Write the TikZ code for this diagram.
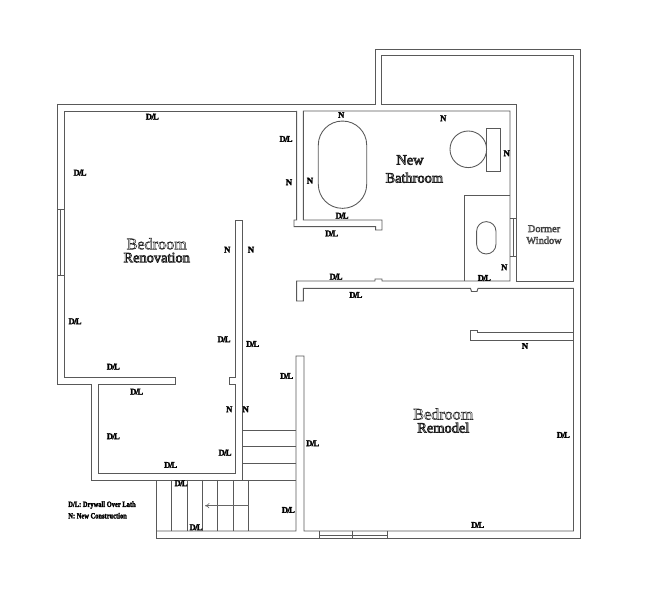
\documentclass[tikz,border=0pt]{standalone}
\usepackage{fontspec}
\setmainfont{Liberation Serif}
\newfontfamily\keyfont[FakeStretch=0.8]{Liberation Serif}
\usetikzlibrary{arrows.meta}
\tikzset{
	wall/.style={line width=0.55pt,draw=black!65,line join=miter},
	fixture/.style={draw=black!65,line width=0.5pt,inner sep=0,outer sep=0},
	note/.style={inner sep=0,outer sep=0,font=\bfseries\fontsize{5}{5}\selectfont},
	legend/.style={inner sep=0,outer sep=0,anchor=west,font=\keyfont\bfseries\fontsize{4.6}{5}\selectfont},
	room/.style={inner sep=0,outer sep=0,text=black!85,font=\fontsize{9.2}{9}\selectfont},
	roomb/.style={inner sep=0,outer sep=0,text=black!90,font=\fontsize{8.2}{9}\selectfont},
	dormer/.style={inner sep=0,outer sep=0,text=black!75,font=\fontsize{5.9}{6}\selectfont}
}
\newcommand{\dl}{D\kern-.4pt/\kern-.5pt L}
\newcommand{\hollow}[1]{\special{pdf:code 1 Tr 0.28 w}#1\special{pdf:code 0 Tr}}
\newcommand{\hollowb}[1]{\special{pdf:code 1 Tr 0.4 w}#1\special{pdf:code 0 Tr}}
\newcommand{\heavy}[1]{\special{pdf:code 2 Tr 0.12 w}#1\special{pdf:code 0 Tr}}

\begin{document}
\begin{tikzpicture}[x=0.02cm,y=-0.02cm]
	\useasboundingbox (0,0) rectangle (650,601);
	% outer walls
	\draw[wall] (57,104) -- (375.5,104) -- (375.5,49) -- (580,49) -- (580,538) -- (156.7,538) -- (156.7,480);
	\draw[wall] (57,104) -- (57,384) -- (91.7,384) -- (91.7,480) -- (296,480);
	% bedroom renovation
	\draw[wall] (296.7,111) -- (64,111) -- (64,377) -- (175.7,377) -- (175.7,384) -- (98.3,384) -- (98.3,473) -- (235,473) -- (235,384) -- (229,384) -- (229,377) -- (235,377) -- (235,220) -- (242.3,220) -- (242.3,480);
	% bathroom and the wall below it
	\draw[wall] (296.7,111) -- (296.7,220) -- (294,220) -- (294,226.7) -- (375.7,226.7) -- (375.7,230) -- (382,230) -- (382,220) -- (303.3,220) -- (303.3,111) -- (510,111) -- (510,281) -- (382,281) -- (382,279) -- (375,279) -- (375,281) -- (296.7,281) -- (296.7,301) -- (303.3,301) -- (303.3,288.3) -- (470.5,288.3) -- (471.5,291.5) -- (477,291.5) -- (478,288.3) -- (573.5,288.3) -- (573.5,531) -- (304,531) -- (304,356) -- (296,356) -- (296,531) -- (156.7,531);
	% dormer
	\draw[wall] (381,104) -- (516.7,104) -- (516.7,281) -- (573.5,281) -- (573.5,55.7) -- (381,55.7) -- (381,104);
	\draw[wall] (464.3,281) -- (464.3,195) -- (510,195);
	% partition
	\draw[wall] (573.5,332.7) -- (477.7,332.7) -- (477.7,330) -- (470.7,330) -- (470.7,340) -- (573.5,340);
	% windows
	\draw[wall] (57,209) -- (64,209);
	\draw[wall] (57,275) -- (64,275);
	\draw[wall] (60.5,209) -- (60.5,275);
	\draw[wall] (510,218.3) -- (516.7,218.3);
	\draw[wall] (510,256.7) -- (516.7,256.7);
	\draw[wall] (513.3,218.3) -- (513.3,256.7);
	\draw[wall] (319,531) -- (319,538);
	\draw[wall] (352.7,531) -- (352.7,538);
	\draw[wall] (387,531) -- (387,538);
	\draw[wall] (319,535) -- (387,535);
	% stairs
	\draw[wall] (242.3,430.7) -- (296,430.7);
	\draw[wall] (242.3,446.7) -- (296,446.7);
	\draw[wall] (242.3,463.3) -- (296,463.3);
	\draw[wall] (171.7,480) -- (171.7,531);
	\draw[wall] (187.3,480) -- (187.3,531);
	\draw[wall] (202.7,480) -- (202.7,531);
	\draw[wall] (217.7,480) -- (217.7,531);
	\draw[wall] (233.3,480) -- (233.3,531);
	\draw[wall] (248.7,480) -- (248.7,531);
	\coordinate (stairtail) at (248.7,505.7);
	\coordinate (stairhead) at (205,505.7);
	\draw[line width=0.35pt,draw=black!60,-{To[length=2.5pt,width=3pt]}] (stairtail) -- (stairhead);
	% fixtures
	\node[fixture,minimum width=0.968cm,minimum height=1.746cm,rounded corners=0.48cm] (tub) at (342.5,164.7) {};
	\node[fixture,circle,minimum size=0.732cm] (toilet) at (468.3,149.3) {};
	\node[fixture,minimum width=0.266cm,minimum height=0.854cm] (tank) at (493.3,149.6) {};
	\node[fixture,minimum width=0.386cm,minimum height=0.646cm,rounded corners=0.19cm] (sink) at (486.3,237.8) {};
	% room names
	\node[room] (bed1a) at (156.7,243.8) {\hollow{Bedroom}};
	\node[roomb] (bed1b) at (156.7,257.6) {\hollowb{Renovation}};
	\node[roomb] (bath1) at (410,160) {\hollowb{New}};
	\node[roomb] (bath2) at (414.3,177.7) {\hollowb{Bathroom}};
	\node[room] (bed2a) at (443.3,414) {\hollow{Bedroom}};
	\node[roomb] (bed2b) at (443.3,427.7) {\hollowb{Remodel}};
	\node[dormer] (dorm1) at (544,228.7) {\hollow{Dormer}};
	\node[dormer] (dorm2) at (544,240.3) {\hollow{Window}};
	% D/L marks
	\node[note] (dl1) at (152.3,116.7) {\heavy{\dl}};
	\node[note] (dl2) at (286,139) {\heavy{\dl}};
	\node[note] (dl3) at (80,172.7) {\heavy{\dl}};
	\node[note] (dl4) at (342,215.7) {\heavy{\dl}};
	\node[note] (dl5) at (331.7,233.5) {\heavy{\dl}};
	\node[note] (dl6) at (336,276.7) {\heavy{\dl}};
	\node[note] (dl7) at (484.3,278) {\heavy{\dl}};
	\node[note] (dl8) at (355.8,295) {\heavy{\dl}};
	\node[note] (dl9) at (75,321.3) {\heavy{\dl}};
	\node[note] (dl10) at (224,339.3) {\heavy{\dl}};
	\node[note] (dl11) at (252.7,344) {\heavy{\dl}};
	\node[note] (dl12) at (113.3,366.7) {\heavy{\dl}};
	\node[note] (dl13) at (286.7,376) {\heavy{\dl}};
	\node[note] (dl14) at (136.7,391.7) {\heavy{\dl}};
	\node[note] (dl15) at (113.3,436.3) {\heavy{\dl}};
	\node[note] (dl16) at (563.3,435) {\heavy{\dl}};
	\node[note] (dl17) at (312.7,443.3) {\heavy{\dl}};
	\node[note] (dl18) at (225,452.7) {\heavy{\dl}};
	\node[note] (dl19) at (170.7,465) {\heavy{\dl}};
	\node[note] (dl20) at (181,483.3) {\heavy{\dl}};
	\node[note] (dl21) at (288.3,510) {\heavy{\dl}};
	\node[note] (dl22) at (477.7,525) {\heavy{\dl}};
	\node[note] (dl23) at (196,527.3) {\heavy{\dl}};
	% N marks
	\node[note] (n1) at (341.3,115) {\heavy{N}};
	\node[note] (n2) at (443.3,118.3) {\heavy{N}};
	\node[note] (n3) at (506.7,153.3) {\heavy{N}};
	\node[note] (n4) at (289,182.3) {\heavy{N}};
	\node[note] (n5) at (310,180.7) {\heavy{N}};
	\node[note] (n6) at (227.3,249.7) {\heavy{N}};
	\node[note] (n7) at (251,249.7) {\heavy{N}};
	\node[note] (n8) at (504.3,267.3) {\heavy{N}};
	\node[note] (n9) at (525,346) {\heavy{N}};
	\node[note] (n10) at (229.3,409.3) {\heavy{N}};
	\node[note] (n11) at (245.7,409.3) {\heavy{N}};
	% key
	\node[legend] (key1) at (68.3,505) {\heavy{D/L: Drywall Over Lath}};
	\node[legend] (key2) at (68.3,515.7) {\heavy{N: New Construction}};
\end{tikzpicture}
\end{document}
